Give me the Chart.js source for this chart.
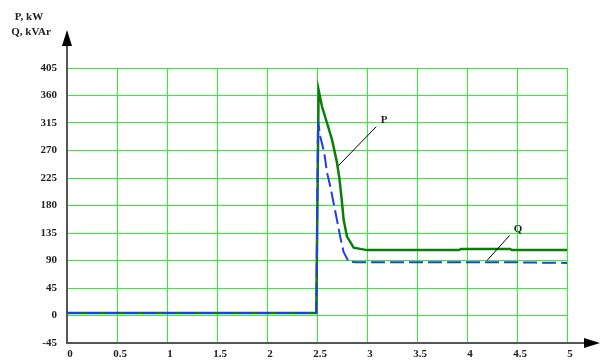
<!DOCTYPE html>
<html>
<head>
<meta charset="utf-8">
<script src="https://cdn.jsdelivr.net/npm/chart.js@4.4.0/dist/chart.umd.min.js"></script>
<style>
  body { margin: 0; background: #fff; }
  #chart { display: block; }
</style>
</head>
<body>
<canvas id="chart" width="604" height="362"></canvas>
<script>
// ====================================== data
const xTicks = [0, 0.5, 1, 1.5, 2, 2.5, 3, 3.5, 4, 4.5, 5];
const yTicks = [-45, 0, 45, 90, 135, 180, 225, 270, 315, 360, 405];

// P (solid green)
const pTime = [0, 2.493, 2.516, 2.55, 2.6, 2.65, 2.7, 2.726, 2.75, 2.766, 2.8, 2.866, 3.0, 3.5, 3.92, 3.94, 4.2, 4.43, 4.45, 5];
const pValues = [4, 4, 369, 342, 315, 288, 250, 222, 185, 157, 129, 111, 107, 107, 107, 109, 109, 109, 107, 107];

// Q (dashed blue)
const qTime = [0, 2.493, 2.51, 2.533, 2.573, 2.6, 2.633, 2.666, 2.7, 2.733, 2.766, 2.816, 2.9, 3.5, 4.0, 4.5, 5];
const qValues = [4, 4, 318, 293, 266, 234, 211, 184, 156, 128, 104, 88, 87, 87, 87, 87, 86];

// callouts: [label, from t, from v, to t, to v, text t, text v]
const callouts = [
  ["P", 2.713, 245, 3.093, 309, 3.17, 319],
  ["Q", 4.2, 90, 4.426, 131, 4.51, 142],
];

const yTitle = ["P, kW", "Q, kVAr"];

function toPoints(xs, ys) {
  return xs.map((x, i) => ({ x: x, y: ys[i] }));
}

// ====================================== arrows, titles, callouts
const extrasPlugin = {
  id: "extras",
  afterDraw(chart) {
    const ctx = chart.ctx;
    const area = chart.chartArea;
    const xs = chart.scales.x;
    const ys = chart.scales.y;
    ctx.save();

    // axis extensions
    ctx.strokeStyle = "#555";
    ctx.lineWidth = 2;
    ctx.beginPath();
    ctx.moveTo(area.left, area.top);
    ctx.lineTo(area.left, 45);
    ctx.moveTo(area.right, area.bottom);
    ctx.lineTo(585, area.bottom);
    ctx.stroke();

    ctx.fillStyle = "#000";
    ctx.beginPath();
    ctx.moveTo(area.left, 30);
    ctx.lineTo(area.left - 5, 46);
    ctx.lineTo(area.left + 5, 46);
    ctx.closePath();
    ctx.fill();
    ctx.beginPath();
    ctx.moveTo(600, area.bottom);
    ctx.lineTo(584, area.bottom - 5);
    ctx.lineTo(584, area.bottom + 5);
    ctx.closePath();
    ctx.fill();

    // y title
    ctx.fillStyle = "#222";
    ctx.font = "bold 11px 'Liberation Serif'";
    ctx.textAlign = "center";
    ctx.textBaseline = "middle";
    ctx.fillText(yTitle[0], 29, 17);
    ctx.fillText(yTitle[1], 31, 32);

    // callouts
    ctx.strokeStyle = "#000";
    ctx.lineWidth = 1;
    callouts.forEach(c => {
      ctx.beginPath();
      ctx.moveTo(xs.getPixelForValue(c[1]), ys.getPixelForValue(c[2]));
      ctx.lineTo(xs.getPixelForValue(c[3]), ys.getPixelForValue(c[4]));
      ctx.stroke();
      ctx.fillText(c[0], xs.getPixelForValue(c[5]), ys.getPixelForValue(c[6]));
    });
    ctx.restore();
  }
};

// ====================================== chart
const tickFont = { family: "'Liberation Serif'", size: 11, weight: "bold" };

new Chart(document.getElementById("chart").getContext("2d"), {
  type: "line",
  data: {
    datasets: [
      {
        label: "Q",
        data: toPoints(qTime, qValues),
        borderColor: "#1f3fe0",
        borderWidth: 2,
        borderDash: [14, 5],
        pointRadius: 0,
        tension: 0,
        fill: false,
      },
      {
        label: "P",
        data: toPoints(pTime, pValues),
        borderColor: "#0a7d0a",
        borderWidth: 2.5,
        pointRadius: 0,
        tension: 0,
        fill: false,
      },
    ],
  },
  options: {
    responsive: false,
    animation: false,
    devicePixelRatio: 1,
    layout: { padding: { top: 68, right: 37, left: 0, bottom: 0 } },
    plugins: { legend: { display: false }, tooltip: { enabled: false } },
    scales: {
      x: {
        type: "linear",
        min: xTicks[0],
        max: xTicks[xTicks.length - 1],
        afterBuildTicks(scale) {
          scale.ticks = xTicks.map(v => ({ value: v }));
        },
        afterFit(scale) {
          scale.height = 19;
        },
        ticks: {
          font: tickFont,
          color: "#222",
          padding: 5,
          labelOffset: 3,
          maxRotation: 0,
          autoSkip: false,
          callback: v => String(v),
        },
        grid: { color: "#33ee33", lineWidth: 1, drawTicks: false },
        border: { color: "#555", width: 2 },
      },
      y: {
        type: "linear",
        min: yTicks[0],
        max: yTicks[yTicks.length - 1],
        afterBuildTicks(scale) {
          scale.ticks = yTicks.map(v => ({ value: v }));
        },
        afterFit(scale) {
          scale.width = 67;
        },
        ticks: {
          font: tickFont,
          color: "#222",
          padding: 10,
          autoSkip: false,
          callback: v => String(v),
        },
        grid: { color: "#33ee33", lineWidth: 1, drawTicks: false },
        border: { color: "#555", width: 2 },
      },
    },
  },
  plugins: [extrasPlugin],
});
</script>
</body>
</html>
